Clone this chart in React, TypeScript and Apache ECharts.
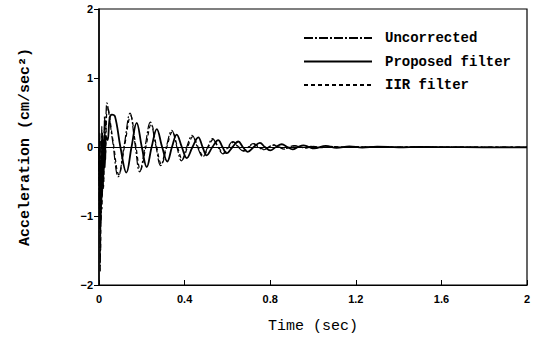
import React, { useEffect, useRef } from "react";
import * as echarts from "echarts";

const xTicks = ["0", "0.4", "0.8", "1.2", "1.6", "2"];
const yTicks = ["\u22122", "\u22121", "0", "1", "2"];
const seriesNames = ["Uncorrected", "Proposed filter", "IIR filter"];

const uncorrected: number[][] = [
  [0, 0], [0.002, -0.9], [0.004, 0.2], [0.006, -1.8], [0.008, -0.4], [0.01, -1.1],
  [0.013, 0.3], [0.016, -0.7], [0.019, 0.1], [0.022, -0.5], [0.026, 0.45], [0.03, -0.2],
  [0.037, 0.64], [0.063, 0.1], [0.09, -0.43], [0.118, 0.03], [0.145, 0.49], [0.168, 0.05],
  [0.19, -0.36], [0.215, 0.0], [0.24, 0.36], [0.265, 0.03], [0.288, -0.27], [0.314, 0.0],
  [0.34, 0.24], [0.364, 0.0], [0.385, -0.2], [0.41, 0.0], [0.435, 0.17], [0.46, 0.0],
  [0.485, -0.14], [0.508, 0.0], [0.53, 0.12], [0.555, 0.0], [0.58, -0.1], [0.603, 0.0],
  [0.625, 0.08], [0.65, 0.0], [0.675, -0.06], [0.698, 0.0], [0.72, 0.05], [0.745, 0.0],
  [0.77, -0.04], [0.793, 0.0], [0.815, 0.03], [0.84, 0.0], [0.865, -0.03], [0.89, 0.0],
  [0.912, 0.02], [0.94, 0.0], [0.965, -0.015], [0.99, 0.01], [1.03, -0.01], [1.08, 0.008],
  [1.13, -0.005], [1.2, 0.004], [1.3, -0.003], [1.45, 0.002], [1.6, 0], [1.8, 0], [2.0, 0],
];

const proposed: number[][] = [
  [0, 0], [0.002, -0.5], [0.004, 0.1], [0.006, -1.2], [0.009, -0.2], [0.012, -0.8],
  [0.015, 0.2], [0.019, -0.5], [0.023, 0.1], [0.027, -0.3], [0.032, 0.15], [0.04, 0.1],
  [0.05, 0.42], [0.06, 0.47], [0.075, 0.44], [0.1, 0.0], [0.128, -0.37], [0.152, 0.0],
  [0.176, 0.35], [0.2, 0.0], [0.223, -0.29], [0.246, 0.0], [0.27, 0.26], [0.295, 0.0],
  [0.319, -0.21], [0.341, 0.0], [0.363, 0.18], [0.387, 0.0], [0.41, -0.16], [0.437, 0.0],
  [0.464, 0.14], [0.484, 0.0], [0.503, -0.12], [0.53, 0.0], [0.557, 0.1], [0.577, 0.0],
  [0.597, -0.09], [0.624, 0.0], [0.651, 0.08], [0.672, 0.0], [0.695, -0.07], [0.723, 0.0],
  [0.752, 0.06], [0.775, 0.0], [0.8, -0.05], [0.827, 0.0], [0.854, 0.04], [0.88, 0.0],
  [0.905, -0.035], [0.93, 0.0], [0.955, 0.025], [0.98, 0.0], [1.005, -0.02], [1.06, 0.015],
  [1.11, -0.012], [1.17, 0.01], [1.23, -0.008], [1.3, 0.005], [1.4, -0.004], [1.5, 0.002],
  [1.7, -0.003], [2.0, -0.005],
];

const iir: number[][] = [
  [0, 0], [0.003, -0.6], [0.005, 0.1], [0.008, -1.5], [0.011, -0.3], [0.014, -0.9],
  [0.017, 0.2], [0.021, -0.6], [0.025, 0.3], [0.03, -0.1], [0.04, 0.58], [0.066, 0.08],
  [0.093, -0.4], [0.12, 0.02], [0.148, 0.45], [0.171, 0.04], [0.194, -0.33], [0.219, 0.0],
  [0.244, 0.33], [0.268, 0.02], [0.292, -0.25], [0.317, 0.0], [0.343, 0.22], [0.367, 0.0],
  [0.39, -0.18], [0.414, 0.0], [0.439, 0.15], [0.463, 0.0], [0.488, -0.13], [0.511, 0.0],
  [0.534, 0.11], [0.558, 0.0], [0.583, -0.09], [0.606, 0.0], [0.629, 0.07], [0.653, 0.0],
  [0.678, -0.055], [0.701, 0.0], [0.724, 0.045], [0.748, 0.0], [0.773, -0.035], [0.796, 0.0],
  [0.819, 0.028], [0.843, 0.0], [0.868, -0.022], [0.893, 0.0], [0.916, 0.017], [0.945, 0.0],
  [0.97, -0.012], [1.0, 0.008], [1.05, -0.006], [1.1, 0.005], [1.16, -0.003], [1.25, 0.002],
  [1.35, 0], [1.5, 0], [1.7, 0], [2.0, 0],
];

const monoFont = "'Liberation Mono', 'DejaVu Sans Mono', monospace";
const sansFont = "'Liberation Sans', Arial, sans-serif";

export default function App() {
  const ref = useRef<HTMLDivElement>(null);
  useEffect(() => {
    if (!ref.current) return;
    const chart = echarts.init(ref.current, undefined, { renderer: "svg" });
    chart.setOption({
      animation: false,
      backgroundColor: "#fff",
      grid: {
        left: 99, right: 14, top: 9, bottom: 56,
        show: true, borderColor: "#000", borderWidth: 1.2, backgroundColor: "transparent",
      },
      legend: {
        orient: "vertical",
        left: 298,
        top: 26,
        itemWidth: 68,
        itemHeight: 14,
        itemGap: 9.5,
        data: seriesNames,
        itemStyle: { opacity: 0 },
        textStyle: { fontFamily: monoFont, fontSize: 14, fontWeight: "bold", color: "#000", padding: [0, 0, 0, 8] },
      },
      xAxis: {
        type: "value", min: 0, max: 2, interval: 0.4,
        axisLine: { show: true, onZero: false, lineStyle: { color: "#000", width: 1.2 } },
        axisTick: { show: true, inside: true, length: 5, lineStyle: { color: "#000" } },
        splitLine: { show: false },
        axisLabel: {
          color: "#000", fontFamily: sansFont, fontWeight: "bold", fontSize: 11, margin: 8,
          formatter: (v: number) => xTicks[Math.round(v / 0.4)] ?? "",
        },
        name: "Time (sec)", nameLocation: "middle", nameGap: 34,
        nameTextStyle: { fontFamily: monoFont, fontSize: 15, color: "#000" },
      },
      yAxis: {
        type: "value", min: -2, max: 2, interval: 1,
        axisLine: { show: true, onZero: false, lineStyle: { color: "#000", width: 1.5 } },
        axisTick: { show: true, inside: false, length: 5, lineStyle: { color: "#000" } },
        splitLine: { show: false },
        axisLabel: {
          color: "#000", fontFamily: sansFont, fontWeight: "bold", fontSize: 11, margin: 6,
          formatter: (v: number) => yTicks[Math.round(v + 2)] ?? "",
        },
        name: "Acceleration (cm/sec\u00b2)", nameLocation: "middle", nameGap: 66,
        nameTextStyle: { fontFamily: monoFont, fontSize: 15, fontWeight: "bold", color: "#000" },
      },
      series: [
        {
          name: seriesNames[0], type: "line", data: uncorrected, smooth: 0.4, symbol: "none",
          lineStyle: { color: "#000", width: 1.2, type: [9, 2, 2, 2] },
          itemStyle: { color: "#000" },
          markLine: {
            silent: true, symbol: "none", label: { show: false },
            lineStyle: { color: "#000", width: 1.2, type: "solid" },
            data: [{ yAxis: 0 }],
          },
        },
        {
          name: seriesNames[1], type: "line", data: proposed, smooth: 0.4, symbol: "none",
          lineStyle: { color: "#000", width: 1.8, type: "solid" },
          itemStyle: { color: "#000" },
        },
        {
          name: seriesNames[2], type: "line", data: iir, smooth: 0.4, symbol: "none",
          lineStyle: { color: "#000", width: 1.2, type: [4, 3] },
          itemStyle: { color: "#000" },
        },
      ],
    });
    return () => chart.dispose();
  }, []);
  return <div ref={ref} style={{ width: 541, height: 341, position: "absolute", left: 0, top: 0 }} />;
}
